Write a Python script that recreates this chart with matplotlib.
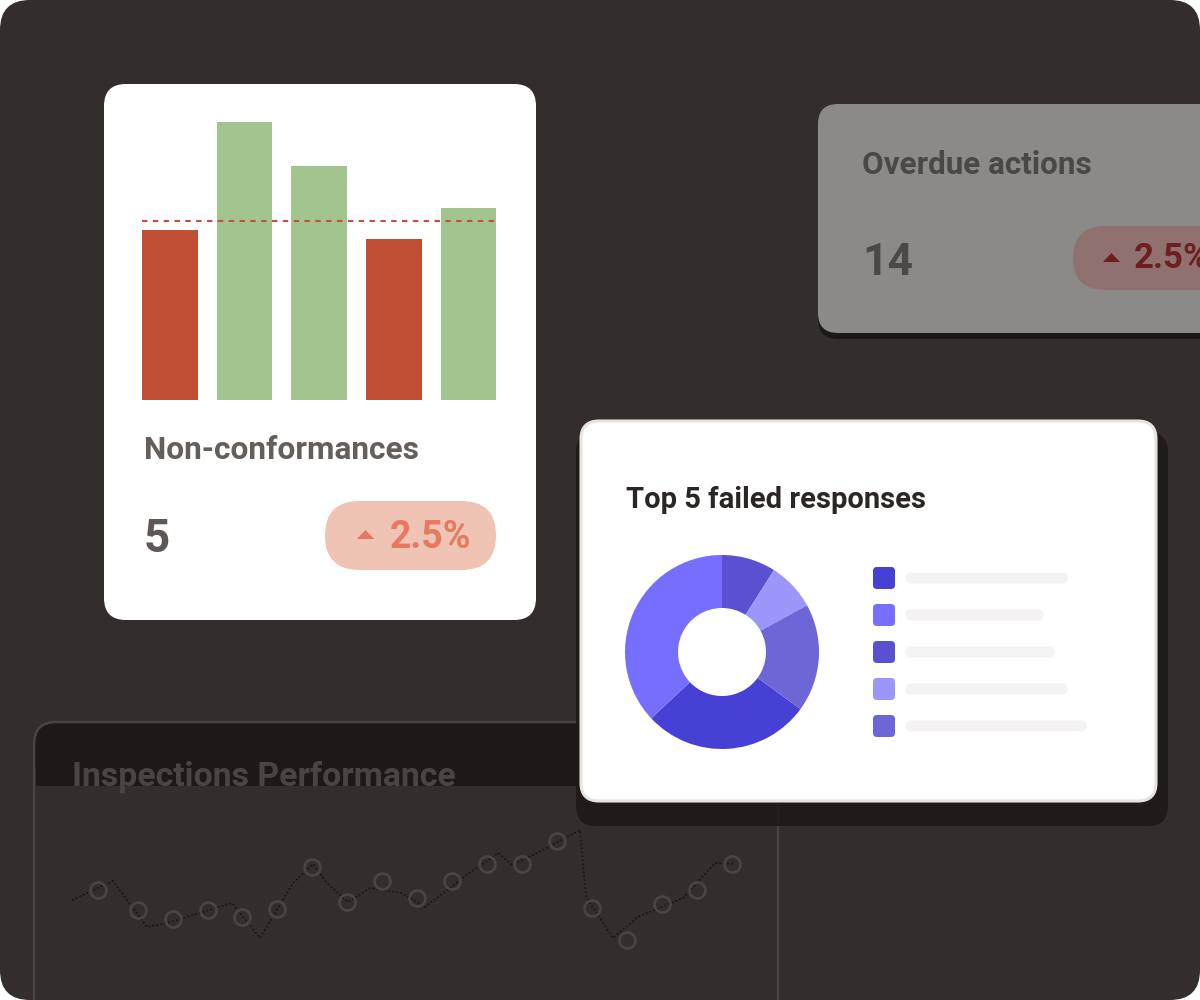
import matplotlib
matplotlib.use('Agg')
import matplotlib.pyplot as plt
from matplotlib.patches import FancyBboxPatch, Polygon, Rectangle

plt.rcParams['font.family'] = ['Roboto', 'DejaVu Sans']

# ---------------- data ----------------
bar_values = [17.0, 27.8, 23.4, 16.1, 19.2]
bar_target = 17.9
nc_title = "Non-conformances"
nc_value = "5"
nc_change = "2.5%"

overdue_title = "Overdue actions"
overdue_value = "14"
overdue_change = "2.5%"

donut_title = "Top 5 failed responses"
donut_values = [28, 37, 9, 8, 18]
donut_colors = ['#4640d4', '#766efe', '#5a51d1', '#9c96fb', '#6c66d6']
legend_placeholder_len = [162, 138, 149, 162, 181]

line_title = "Inspections Performance"
line_x = [-0.14] + list(range(1, 19))
line_values = [45, 35, 30.5, 35, 31.5, 35.5, 56.5, 39, 49.5, 41, 49.5,
               58, 58, 69.5, 36, 20, 38, 45, 58]
trail_x = [-0.877, 0.296, 1.269, 1.841, 3.701, 4.503, 5.447, 6.019, 6.419,
           7.020, 7.650, 8.565, 9.223, 10.425, 11.312, 11.713, 12.428,
           13.658, 13.830, 14.603, 15.318, 16.605, 17.520, 18.035]
trail_y = [40, 49.5, 26.5, 28.5, 38.5, 21, 48.5, 58, 48.5, 39, 46, 43.5,
           36.5, 52.5, 63.5, 57.5, 63.5, 75, 41.5, 21, 31.5, 41, 58.5, 58]

# ---------------- colours ----------------
BG = '#332d2b'
SHADOW = '#1c1815'
RED = '#c04f36'
GREEN = '#a2c48e'

W, H = 1200, 1000
fig = plt.figure(figsize=(12, 10), dpi=100)
fig.patch.set_facecolor('white')


def fax(x0, y0, x1, y1):
    return fig.add_axes([x0 / W, 1 - y1 / H, (x1 - x0) / W, (y1 - y0) / H])


def pix_axes(ax):
    ax.set_xlim(0, W)
    ax.set_ylim(H, 0)
    ax.axis('off')
    ax.patch.set_alpha(0)


def rbox(ax, x, y, w, h, r, fc, ec='none', lw=0, z=1, alpha=None):
    p = FancyBboxPatch((x, y), w, h, boxstyle=f"round,pad=0,rounding_size={r}",
                       fc=fc, ec=ec, lw=lw, zorder=z, alpha=alpha)
    ax.add_patch(p)
    return p


def tri(ax, cx, cy, w, h, color, z=5):
    ax.add_patch(Polygon([(cx - w / 2, cy + h / 2), (cx + w / 2, cy + h / 2),
                          (cx, cy - h / 2)], closed=True, fc=color, ec='none',
                         zorder=z))


# ---------------- background layer ----------------
ax_bg = fax(0, 0, W, H)
pix_axes(ax_bg)
rbox(ax_bg, 0, 0, W, H, 30, BG)

# Non-conformances card
rbox(ax_bg, 104, 84, 432, 536, 22, 'white', z=2)
ax_bg.text(144, 459, nc_title, fontsize=22.8, fontweight='bold',
           color='#655f5c', va='baseline', ha='left', zorder=3)
ax_bg.text(144, 551.5, nc_value, fontsize=33, fontweight='bold',
           color='#5d5856', va='baseline', ha='left', zorder=3)
rbox(ax_bg, 325, 501, 171, 69, 34.5, '#f0c4b4', z=3)
tri(ax_bg, 365.5, 534.5, 17.5, 9, '#e57a60')
ax_bg.text(390, 548.5, nc_change, fontsize=27, fontweight='bold',
           color='#e67a5f', va='baseline', ha='left', zorder=5)

# Overdue actions card
rbox(ax_bg, 818, 110, 420, 229, 20, SHADOW, z=2)
rbox(ax_bg, 818, 104, 420, 229, 20, '#8c8a88', z=2)
ax_bg.text(862, 174, overdue_title, fontsize=22.6, fontweight='bold',
           color='#4a4745', va='baseline', ha='left', zorder=3)
ax_bg.text(862, 275, overdue_value, fontsize=32, fontweight='bold',
           color='#4b4847', va='baseline', ha='left', zorder=3)
rbox(ax_bg, 1073, 226, 180, 64, 32, '#8f7170', z=3)
tri(ax_bg, 1111.5, 257.5, 17, 9, '#6d1f1e')
ax_bg.text(1134, 268.5, overdue_change, fontsize=25, fontweight='bold',
           color='#6e1f1f', va='baseline', ha='left', zorder=5)

# Inspections performance card
rbox(ax_bg, 34, 722, 744, 330, 22, BG, z=2)
rbox(ax_bg, 35.5, 723.5, 741, 62, 20, '#1d1917', z=3)
ax_bg.add_patch(Rectangle((35.5, 755), 741, 30.5, fc='#1d1917', ec='none', zorder=3))
rbox(ax_bg, 34, 722, 744, 330, 22, 'none', ec='#4a4543', lw=1.6, z=4)
ax_bg.text(72, 786, line_title, fontsize=24.3, fontweight='bold',
           color='#4a4543', va='baseline', ha='left', zorder=5)

# ---------------- bar chart ----------------
ax_bar = fax(132.7, 100, 505.8, 400)
ax_bar.set_xlim(-0.5, 4.5)
ax_bar.set_ylim(0, 30)
ax_bar.axis('off')
ax_bar.patch.set_alpha(0)
bw = 0.744
bar_colors = [RED if v < bar_target else GREEN for v in bar_values]
ax_bar.bar(range(len(bar_values)), bar_values, width=bw, color=bar_colors,
           edgecolor='none', zorder=2)
ax_bar.hlines(bar_target, -bw / 2, len(bar_values) - 1 + bw / 2,
              colors='#c8503a', linewidth=1.5, linestyles=(0, (2.6, 2.6)),
              zorder=3)

# ---------------- line chart ----------------
ax_line = fax(35, 790, 778, 1000)
ax_line.set_xlim(-1.936, 19.323)
ax_line.set_ylim(-10, 95)
ax_line.axis('off')
ax_line.patch.set_alpha(0)
ax_line.plot(trail_x, trail_y, color='#171311', lw=1.2,
             linestyle=(0, (1, 1.4)), zorder=2)
ax_line.plot(line_x, line_values, linestyle='none',
             marker='o', markersize=11.5, markeredgewidth=1.9,
             markeredgecolor='#4a4543', markerfacecolor='none', zorder=3)

# ---------------- donut card overlay ----------------
ax_ov = fax(0, 0, W, H)
pix_axes(ax_ov)
rbox(ax_ov, 576, 432, 592, 394, 20, SHADOW, z=1, alpha=0.85)
rbox(ax_ov, 581, 421, 575, 380, 18, 'white', ec='#e6e3e1', lw=2.2, z=2)
ax_ov.text(626, 508, donut_title, fontsize=21, fontweight='bold',
           color='#2b2624', va='baseline', ha='left', zorder=3)
for i, (c, L) in enumerate(zip(donut_colors, legend_placeholder_len)):
    cy = 578 + 37 * i
    rbox(ax_ov, 873, cy - 11, 22, 22, 4, c, z=3)
    rbox(ax_ov, 905.6, cy - 5.5, L, 11, 5.5, '#f4f2f2', z=3)

# ---------------- donut ----------------
ax_d = fax(722 - 97, 652 - 97, 722 + 97, 652 + 97)
ax_d.pie(donut_values, colors=donut_colors, startangle=-36, counterclock=False,
         radius=1, wedgeprops=dict(width=1 - 44 / 97, edgecolor='none', linewidth=0))
ax_d.set_xlim(-1, 1)
ax_d.set_ylim(-1, 1)
ax_d.axis('off')
ax_d.patch.set_alpha(0)

fig.savefig('out.png', dpi=100, facecolor='white')
